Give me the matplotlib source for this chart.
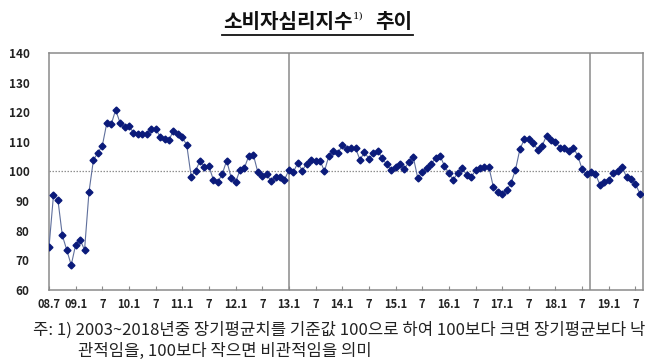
import matplotlib.pyplot as plt
from matplotlib.lines import Line2D

plt.rcParams['font.family'] = ['Noto Sans CJK KR', 'DejaVu Sans']

# monthly consumer sentiment index, 2008.7 ~ 2019.8
csi = [74.4, 91.9, 90.5, 78.4, 73.5, 68.4,
       75.3, 77.0, 73.5, 93.1, 103.9, 106.3, 108.7, 116.3, 115.9, 120.8, 116.4, 114.9,
       115.4, 113.1, 112.8, 112.6, 112.6, 114.4, 114.4, 111.8, 111.0, 110.6, 113.8, 112.6,
       111.5, 109.0, 98.3, 100.2, 103.7, 101.4, 101.7, 97.2, 96.4, 99.2, 103.7, 97.9,
       96.3, 100.6, 101.3, 105.4, 105.6, 99.8, 98.4, 99.0, 96.7, 98.1, 98.3, 97.2,
       100.5, 99.8, 102.9, 100.3, 102.7, 103.9, 103.4, 103.7, 100.1, 105.3, 107.0, 106.1,
       108.8, 107.6, 108.1, 107.9, 103.9, 106.6, 104.3, 106.2, 107.0, 104.5, 102.4, 100.6,
       101.6, 102.4, 100.8, 103.3, 104.8, 97.8, 99.7, 101.1, 102.5, 104.5, 105.4, 101.9,
       99.4, 97.2, 99.6, 101.1, 98.9, 98.0, 100.4, 101.1, 101.6, 101.6, 94.9, 93.1,
       92.4, 93.7, 96.1, 100.6, 107.6, 110.9, 110.9, 109.7, 107.3, 108.7, 112.1, 110.7,
       110.0, 108.1, 108.1, 107.0, 108.1, 105.4, 100.8, 99.0, 99.8, 99.2, 95.5, 96.6,
       97.2, 99.4, 100.0, 101.6, 98.1, 97.4, 95.8, 92.5]
tick_labels = ['08.7', '09.1', '7', '10.1', '7', '11.1', '7', '12.1', '7', '13.1', '7',
               '14.1', '7', '15.1', '7', '16.1', '7', '17.1', '7', '18.1', '7', '19.1', '7']
yticks = [60, 70, 80, 90, 100, 110, 120, 130, 140]
vlines = [54, 121.7]

x = list(range(len(csi)))

fig = plt.figure(figsize=(6.5, 3.6), dpi=100)
ax = fig.add_axes([49 / 650, 1 - 290 / 360, 594 / 650, 237 / 360])

ax.plot(x, csi, color='#5f6f9c', lw=0.8, marker='D', markersize=3.5,
        markerfacecolor='#0a1a7a', markeredgecolor='#0a1a7a', zorder=3)
ax.axhline(100, color='#909090', lw=0.9, ls=(0, (1.2, 1.2)), zorder=1)
for v in vlines:
    ax.axvline(v, color='#8a8a8a', lw=1.1, zorder=2)

ax.set_xlim(0, 133.7)
ax.set_ylim(60, 140)
ax.set_yticks(yticks)
ax.set_xticks(range(0, 6 * len(tick_labels), 6))
ax.set_xticklabels(tick_labels, fontweight='bold', fontsize=8, color='#222222')
ax.set_yticklabels([str(v) for v in yticks], fontweight='bold', fontsize=8.5, color='#222222')
ax.tick_params(axis='y', length=0, pad=14)
ax.tick_params(axis='x', direction='in', length=3, color='#8a8a8a', pad=6)
for s in ax.spines.values():
    s.set_color('#8a8a8a')
    s.set_linewidth(1.1)

# title with superscript and underline
fig.text(223 / 650, 1 - 22 / 360, '소비자심리지수', fontsize=14.5, fontweight='bold',
         va='center', ha='left', color='#111111')
fig.text(353 / 650, 1 - 16 / 360, '1)', fontsize=7.5, family='DejaVu Serif',
         va='center', ha='left', color='#111111')
fig.text(412 / 650, 1 - 22 / 360, '추이', fontsize=14.5, fontweight='bold',
         va='center', ha='right', color='#111111')
fig.add_artist(Line2D([222 / 650, 413 / 650], [1 - 35 / 360, 1 - 35 / 360],
                      color='#111111', lw=1.3))

# footnote
fig.text(33 / 650, 1 - 330 / 360,
         '주: 1) 2003~2018년중 장기평균치를 기준값 100으로 하여 100보다 크면 장기평균보다 낙',
         fontsize=12, va='center', ha='left', color='#222222')
fig.text(78 / 650, 1 - 351 / 360, '관적임을, 100보다 작으면 비관적임을 의미',
         fontsize=12, va='center', ha='left', color='#222222')

fig.savefig('out.png', dpi=100)
